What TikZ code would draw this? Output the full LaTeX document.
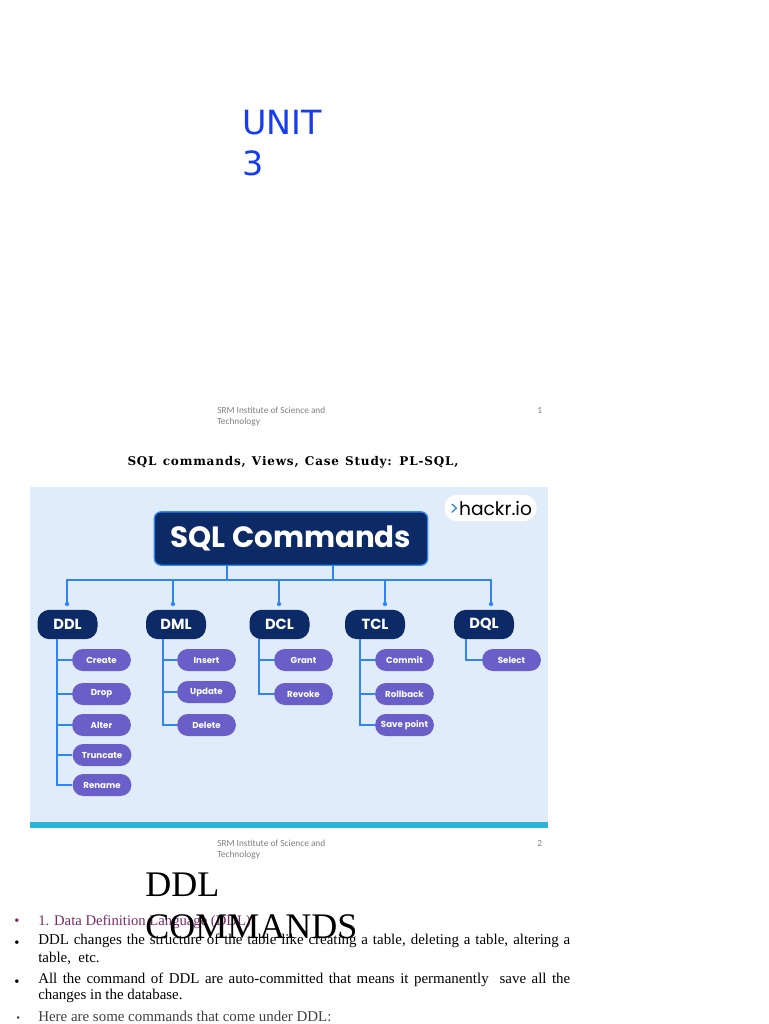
\documentclass[tikz,border=0pt]{standalone}
\usepackage{fontspec}
\setmainfont{Liberation Serif}
\newfontfamily\pop{Poppins}
\newfontfamily\dvs{DejaVu Sans}
\newfontfamily\dvsb{DejaVu Serif}
\newfontfamily\carl{Carlito}
\begin{document}
\begin{tikzpicture}[x=0.75pt,y=-0.75pt,
  cat/.style={fill=navy,rounded corners=9pt,minimum width=45pt,minimum height=22pt,text=white,font=\pop\bfseries\fontsize{11}{11}\selectfont,inner sep=0pt},
  sub/.style={fill=sub,rounded corners=8pt,minimum width=44pt,minimum height=16.5pt,text=white,font=\pop\bfseries\fontsize{6.5}{6.5}\selectfont,inner sep=0pt},
  ln/.style={draw=lblue,line width=0.9pt},
  foot/.style={anchor=north west,font=\carl\fontsize{7}{8}\selectfont,text=gray,align=left,inner sep=0pt},
  body/.style={anchor=north west,inner sep=0pt,font=\fontsize{11.2}{13}\selectfont,text width=399pt,align=justify},
  bul/.style={anchor=base west,inner sep=0pt,font=\fontsize{11}{11}\selectfont}]
\definecolor{navy}{HTML}{0B2A66}
\definecolor{sub}{HTML}{6A5FC8}
\definecolor{lblue}{HTML}{2F86F0}
\definecolor{bgb}{HTML}{E1ECFB}
\definecolor{plum}{HTML}{7B2A6B}
\definecolor{barc}{HTML}{2BB5D8}
\definecolor{unitc}{HTML}{143CF5}
\useasboundingbox (0,0) rectangle (768,1024);
\fill[white] (0,0) rectangle (768,1024);
% slide 1
\node[anchor=north west,inner sep=0pt,text=unitc,font=\dvs\fontsize{25}{31}\selectfont,align=left] (unit) at (242,110) {UNIT\\3};
\node[foot] (f1) at (217,407) {SRM Institute of Science and\\Technology};
\node[anchor=north west,inner sep=0pt,font=\carl\fontsize{7}{8}\selectfont,text=gray] (n1) at (537,407) {1};
\node[font=\dvsb\bfseries\fontsize{9}{10}\selectfont,inner sep=0pt] (title) at (293,462) {S\kern.6pt Q\kern.6pt L\, c\kern.6pt o\kern.6pt m\kern.6pt m\kern.6pt a\kern.6pt n\kern.6pt d\kern.6pt s\kern.6pt ,\, V\kern.6pt i\kern.6pt e\kern.6pt w\kern.6pt s\kern.6pt ,\, C\kern.6pt a\kern.6pt s\kern.6pt e\, S\kern.6pt t\kern.6pt u\kern.6pt d\kern.6pt y\kern.6pt :\, P\kern.6pt L\kern.6pt -\kern.6pt S\kern.6pt Q\kern.6pt L\kern.6pt ,};
% image
\fill[bgb] (30,487) rectangle (548,828);
\fill[barc] (30,822) rectangle (548,828);
\node[fill=white,rounded corners=9pt,minimum width=69pt,minimum height=19.5pt,inner sep=0pt,font=\pop\fontsize{14}{14}\selectfont] (logo) at (490.5,508) {\textcolor{lblue}{>}hackr.io};
\node[fill=navy,draw=lblue,line width=1pt,rounded corners=5pt,minimum width=205pt,minimum height=40pt,inner sep=0pt,text=white,font=\pop\bfseries\fontsize{22}{22}\selectfont] (sql) at (291,538.5) {SQL Commands};
\node[cat] (ddl) at (67.5,624.5) {DDL};
\node[cat] (dml) at (176,624.5) {DML};
\node[cat] (dcl) at (279.5,624.5) {DCL};
\node[cat] (tcl) at (375,624.5) {TCL};
\node[cat] (dql) at (484,624.5) {DQL};
\coordinate (h1) at (227,580); \coordinate (h2) at (333,580);
\draw[ln] (227,565) -- (h1); \draw[ln] (333,565) -- (h2);
\draw[ln] (67,604) -- (67,580) -- (491,580) -- (491,604);
\foreach \x in {173,279,385} \draw[ln] (\x,580) -- (\x,604);
\foreach \x in {67,173,279,385,491} \fill[lblue] (\x,604) circle (1.6pt);
% subs
\node[sub] (create) at (101.5,660) {Create};
\node[sub] (drop) at (101.5,694) {Drop};
\node[sub] (alter) at (101.5,725) {Alter};
\node[sub] (trunc) at (102,755) {Truncate};
\node[sub] (rename) at (102,785) {Rename};
\node[sub] (insert) at (206.5,660) {Insert};
\node[sub] (update) at (206.5,692) {Update};
\node[sub] (delete) at (206.5,725) {Delete};
\node[sub] (grant) at (303.5,660) {Grant};
\node[sub] (revoke) at (303.5,694) {Revoke};
\node[sub] (commit) at (404.5,660) {Commit};
\node[sub] (rollback) at (404.5,694) {Rollback};
\node[sub] (save) at (404.5,725) {Save point};
\node[sub] (select) at (511.5,660) {Select};
\draw[ln] (57,639) |- (create.west); \draw[ln] (57,639) |- (drop.west); \draw[ln] (57,639) |- (alter.west); \draw[ln] (57,639) |- (trunc.west); \draw[ln] (57,639) |- (rename.west);
\draw[ln] (163,639) |- (insert.west); \draw[ln] (163,639) |- (update.west); \draw[ln] (163,639) |- (delete.west);
\draw[ln] (259,639) |- (grant.west); \draw[ln] (259,639) |- (revoke.west);
\draw[ln] (360,639) |- (commit.west); \draw[ln] (360,639) |- (rollback.west); \draw[ln] (360,639) |- (save.west);
\draw[ln] (466,639) |- (select.west);
% slide 2
\node[foot] (f2) at (217,840) {SRM Institute of Science and\\Technology};
\node[anchor=north west,inner sep=0pt,font=\carl\fontsize{7}{8}\selectfont,text=gray] (n2) at (537,840) {2};
\node[anchor=base west,inner sep=0pt,font=\fontsize{11}{12}\selectfont,text=plum] (b1) at (38,925) {1. Data Definition Language (DDL)};
\node[bul,text=plum] at (14,925) {•};
\node[body] (b2) at (38,934) {DDL changes the structure of the table like creating a table, deleting a table, altering a table,~ etc.};
\node[bul] at (14,947) {•};
\node[body,font=\fontsize{11.2}{11.8}\selectfont] (b3) at (38,973) {All the command of DDL are auto-committed that means it permanently~ save all the changes in the database.};
\node[bul] at (14,986) {•};
\node[anchor=base west,inner sep=0pt,font=\fontsize{11.2}{12}\selectfont,text=black!75] (b4) at (38,1021) {Here are some commands that come under DDL:};
\node[anchor=base west,inner sep=0pt,font=\fontsize{8}{8}\selectfont,text=black!75] at (16,1021) {•};
\node[anchor=north west,inner sep=0pt,font=\fontsize{27}{31}\selectfont,align=left] (ddlt) at (145,873) {DDL\\COMMANDS};
\end{tikzpicture}
\end{document}
